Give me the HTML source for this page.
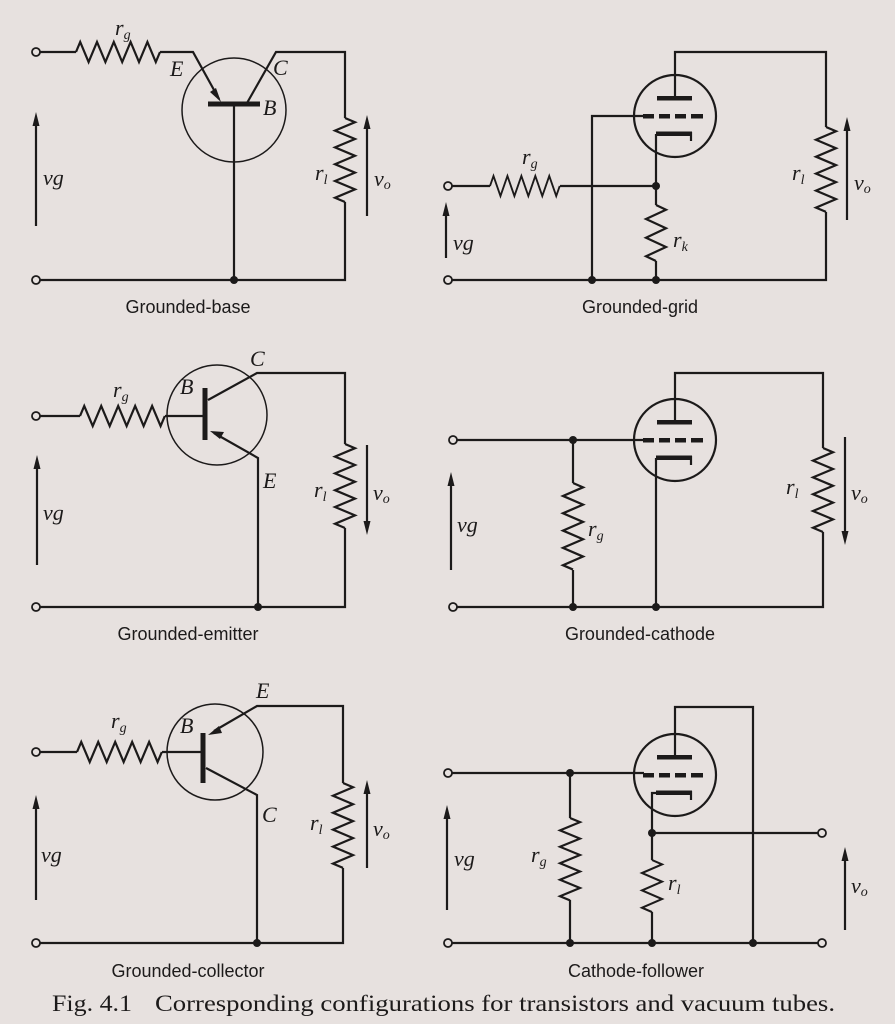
<!DOCTYPE html>
<html><head><meta charset="utf-8"><style>
html,body{margin:0;padding:0;background:#e7e1df;}
svg{display:block}
.w{fill:none;stroke:#1c1a1a;stroke-width:2.2;stroke-linejoin:miter}
.l{font-family:"Liberation Serif",serif;font-style:italic;font-size:22px;fill:#1c1a1a}
.s{font-family:"Liberation Serif",serif;font-style:italic;font-size:14px;fill:#1c1a1a}
.c{font-family:"Liberation Sans",sans-serif;font-size:18px;fill:#1c1a1a;text-anchor:middle}
.f{font-family:"Liberation Serif",serif;font-size:23px;fill:#1c1a1a}
</style></head><body>
<svg width="895" height="1024" viewBox="0 0 895 1024" xmlns="http://www.w3.org/2000/svg">
<defs>
<path id="R" class="w" d="M0,0 L4.2,-10 L12.6,10 L21,-10 L29.4,10 L37.8,-10 L46.2,10 L54.6,-10 L63,10 L71.4,-10 L79.8,10 L84,0"/>
<path id="R3" class="w" d="M0,0 L4.7,-10 L14,10 L23.3,-10 L32.7,10 L42,-10 L51.3,10 L56,0"/>
<g id="T">
<circle cx="0" cy="0" r="41" class="w"/>
<rect x="-18" y="-20" width="35" height="4.5" fill="#1c1a1a"/>
<rect x="-32" y="-2" width="11" height="4.5" fill="#1c1a1a"/>
<rect x="-16" y="-2" width="11" height="4.5" fill="#1c1a1a"/>
<rect x="0" y="-2" width="11" height="4.5" fill="#1c1a1a"/>
<rect x="16" y="-2" width="12" height="4.5" fill="#1c1a1a"/>
<rect x="-19" y="15.5" width="36" height="4.5" fill="#1c1a1a"/>
<line x1="16" y1="16" x2="16" y2="25" class="w"/>
<line x1="0" y1="-20" x2="0" y2="-41" class="w"/>
</g>
</defs>

<!-- Panel 1: Grounded-base -->
<circle cx="234" cy="110" r="52" fill="none" stroke="#1c1a1a" stroke-width="1.5"/>
<polyline class="w" points="40,52 76,52"/>
<use href="#R" transform="translate(76,52)"/>
<polyline class="w" points="160,52 193,52 219,99"/>
<polygon points="221,102 210,92 216,88" fill="#1c1a1a"/>
<rect x="208" y="101.5" width="52" height="5" fill="#1c1a1a"/>
<polyline class="w" points="247,103 276,52 345,52 345,118"/>
<use href="#R" transform="translate(345,118) rotate(90)"/>
<polyline class="w" points="345,202 345,280 40,280"/>
<line class="w" x1="234" y1="106" x2="234" y2="280"/>
<circle cx="234" cy="280" r="4" fill="#1c1a1a"/>
<circle cx="36" cy="52" r="4" fill="#e7e1df" stroke="#1c1a1a" stroke-width="1.8"/>
<circle cx="36" cy="280" r="4" fill="#e7e1df" stroke="#1c1a1a" stroke-width="1.8"/>
<line class="w" x1="36" y1="226" x2="36" y2="124"/><polygon points="36,112 32.5,126 39.5,126" fill="#1c1a1a"/>
<line class="w" x1="367" y1="216" x2="367" y2="127"/><polygon points="367,115 363.5,129 370.5,129" fill="#1c1a1a"/>
<text class="l" x="115" y="35">r<tspan class="s" dy="4">g</tspan></text>
<text class="l" x="170" y="76">E</text>
<text class="l" x="273" y="75">C</text>
<text class="l" x="263" y="115">B</text>
<text class="l" x="315" y="180">r<tspan class="s" dy="4">l</tspan></text>
<text class="l" x="374" y="186">v<tspan class="s" dy="3">o</tspan></text>
<text class="l" x="43" y="185">vg</text>
<text class="c" x="188" y="313">Grounded-base</text>

<!-- Panel 2: Grounded-grid -->
<use href="#T" transform="translate(675,116)"/>
<polyline class="w" points="675,75 675,52 826,52 826,127"/>
<use href="#R" transform="translate(826,127) rotate(90) scale(1.01,1)"/>
<polyline class="w" points="826,212 826,280 452,280"/>
<polyline class="w" points="644,116 592,116 592,280"/>
<polyline class="w" points="656,134 656,205"/>
<use href="#R3" transform="translate(656,205) rotate(90)"/>
<line class="w" x1="656" y1="261" x2="656" y2="280"/>
<polyline class="w" points="452,186 490,186"/>
<use href="#R" transform="translate(490,186) scale(0.83,1)"/>
<line class="w" x1="560" y1="186" x2="656" y2="186"/>
<circle cx="656" cy="186" r="4" fill="#1c1a1a"/>
<circle cx="592" cy="280" r="4" fill="#1c1a1a"/>
<circle cx="656" cy="280" r="4" fill="#1c1a1a"/>
<circle cx="448" cy="186" r="4" fill="#e7e1df" stroke="#1c1a1a" stroke-width="1.8"/>
<circle cx="448" cy="280" r="4" fill="#e7e1df" stroke="#1c1a1a" stroke-width="1.8"/>
<line class="w" x1="446" y1="258" x2="446" y2="214"/><polygon points="446,202 442.5,216 449.5,216" fill="#1c1a1a"/>
<line class="w" x1="847" y1="220" x2="847" y2="129"/><polygon points="847,117 843.5,131 850.5,131" fill="#1c1a1a"/>
<text class="l" x="522" y="164">r<tspan class="s" dy="4">g</tspan></text>
<text class="l" x="673" y="247">r<tspan class="s" dy="4">k</tspan></text>
<text class="l" x="792" y="180">r<tspan class="s" dy="4">l</tspan></text>
<text class="l" x="854" y="190">v<tspan class="s" dy="3">o</tspan></text>
<text class="l" x="453" y="250">vg</text>
<text class="c" x="640" y="313">Grounded-grid</text>

<!-- Panel 3: Grounded-emitter -->
<circle cx="217" cy="415" r="50" fill="none" stroke="#1c1a1a" stroke-width="1.5"/>
<line class="w" x1="40" y1="416" x2="80" y2="416"/>
<use href="#R" transform="translate(80,416) scale(1.01,1)"/>
<line class="w" x1="165" y1="416" x2="204" y2="416"/>
<rect x="202.5" y="388" width="5" height="52" fill="#1c1a1a"/>
<polyline class="w" points="208,400 257,373 345,373 345,444"/>
<use href="#R" transform="translate(345,444) rotate(90)"/>
<polyline class="w" points="345,528 345,607 40,607"/>
<polyline class="w" points="214,433 258,458 258,607"/>
<polygon points="210,431 224,432 220,439" fill="#1c1a1a"/>
<circle cx="258" cy="607" r="4" fill="#1c1a1a"/>
<circle cx="36" cy="416" r="4" fill="#e7e1df" stroke="#1c1a1a" stroke-width="1.8"/>
<circle cx="36" cy="607" r="4" fill="#e7e1df" stroke="#1c1a1a" stroke-width="1.8"/>
<line class="w" x1="37" y1="565" x2="37" y2="467"/><polygon points="37,455 33.5,469 40.5,469" fill="#1c1a1a"/>
<line class="w" x1="367" y1="445" x2="367" y2="523"/><polygon points="367,535 363.5,521 370.5,521" fill="#1c1a1a"/>
<text class="l" x="113" y="397">r<tspan class="s" dy="4">g</tspan></text>
<text class="l" x="250" y="366">C</text>
<text class="l" x="180" y="394">B</text>
<text class="l" x="263" y="488">E</text>
<text class="l" x="314" y="497">r<tspan class="s" dy="4">l</tspan></text>
<text class="l" x="373" y="500">v<tspan class="s" dy="3">o</tspan></text>
<text class="l" x="43" y="520">vg</text>
<text class="c" x="188" y="640">Grounded-emitter</text>

<!-- Panel 4: Grounded-cathode -->
<use href="#T" transform="translate(675,440)"/>
<polyline class="w" points="675,399 675,373 823,373 823,448"/>
<use href="#R" transform="translate(823,448) rotate(90)"/>
<polyline class="w" points="823,532 823,607 457,607"/>
<line class="w" x1="457" y1="440" x2="644" y2="440"/>
<line class="w" x1="573" y1="440" x2="573" y2="483"/>
<use href="#R" transform="translate(573,483) rotate(90) scale(1.03,1)"/>
<line class="w" x1="573" y1="570" x2="573" y2="607"/>
<line class="w" x1="656" y1="458" x2="656" y2="607"/>
<circle cx="573" cy="440" r="4" fill="#1c1a1a"/>
<circle cx="573" cy="607" r="4" fill="#1c1a1a"/>
<circle cx="656" cy="607" r="4" fill="#1c1a1a"/>
<circle cx="453" cy="440" r="4" fill="#e7e1df" stroke="#1c1a1a" stroke-width="1.8"/>
<circle cx="453" cy="607" r="4" fill="#e7e1df" stroke="#1c1a1a" stroke-width="1.8"/>
<line class="w" x1="451" y1="570" x2="451" y2="484"/><polygon points="451,472 447.5,486 454.5,486" fill="#1c1a1a"/>
<line class="w" x1="845" y1="437" x2="845" y2="533"/><polygon points="845,545 841.5,531 848.5,531" fill="#1c1a1a"/>
<text class="l" x="588" y="536">r<tspan class="s" dy="4">g</tspan></text>
<text class="l" x="786" y="494">r<tspan class="s" dy="4">l</tspan></text>
<text class="l" x="851" y="500">v<tspan class="s" dy="3">o</tspan></text>
<text class="l" x="457" y="532">vg</text>
<text class="c" x="640" y="640">Grounded-cathode</text>

<!-- Panel 5: Grounded-collector -->
<circle cx="215" cy="752" r="48" fill="none" stroke="#1c1a1a" stroke-width="1.5"/>
<line class="w" x1="40" y1="752" x2="77" y2="752"/>
<use href="#R" transform="translate(77,752) scale(1.01,1)"/>
<line class="w" x1="162" y1="752" x2="203" y2="752"/>
<rect x="200.5" y="733" width="5" height="50" fill="#1c1a1a"/>
<polyline class="w" points="214,731 257,706 343,706 343,783"/>
<polygon points="208,735 219,726 222,733" fill="#1c1a1a"/>
<use href="#R" transform="translate(343,783) rotate(90) scale(1.01,1)"/>
<polyline class="w" points="343,868 343,943 40,943"/>
<polyline class="w" points="206,768 257,795 257,943"/>
<circle cx="257" cy="943" r="4" fill="#1c1a1a"/>
<circle cx="36" cy="752" r="4" fill="#e7e1df" stroke="#1c1a1a" stroke-width="1.8"/>
<circle cx="36" cy="943" r="4" fill="#e7e1df" stroke="#1c1a1a" stroke-width="1.8"/>
<line class="w" x1="36" y1="900" x2="36" y2="807"/><polygon points="36,795 32.5,809 39.5,809" fill="#1c1a1a"/>
<line class="w" x1="367" y1="868" x2="367" y2="792"/><polygon points="367,780 363.5,794 370.5,794" fill="#1c1a1a"/>
<text class="l" x="111" y="728">r<tspan class="s" dy="4">g</tspan></text>
<text class="l" x="256" y="698">E</text>
<text class="l" x="180" y="733">B</text>
<text class="l" x="262" y="822">C</text>
<text class="l" x="310" y="830">r<tspan class="s" dy="4">l</tspan></text>
<text class="l" x="373" y="836">v<tspan class="s" dy="3">o</tspan></text>
<text class="l" x="41" y="862">vg</text>
<text class="c" x="188" y="977">Grounded-collector</text>

<!-- Panel 6: Cathode-follower -->
<use href="#T" transform="translate(675,775)"/>
<polyline class="w" points="675,734 675,707 753,707 753,943"/>
<line class="w" x1="452" y1="773" x2="644" y2="773"/>
<line class="w" x1="570" y1="773" x2="570" y2="818"/>
<use href="#R" transform="translate(570,818) rotate(90) scale(0.98,1)"/>
<line class="w" x1="570" y1="900" x2="570" y2="943"/>
<polyline class="w" points="656,793 652,793 652,860"/>
<line class="w" x1="652" y1="833" x2="818" y2="833"/>
<use href="#R3" transform="translate(652,860)  rotate(90) scale(0.93,1)"/>
<line class="w" x1="652" y1="912" x2="652" y2="943"/>
<line class="w" x1="452" y1="943" x2="818" y2="943"/>
<circle cx="570" cy="773" r="4" fill="#1c1a1a"/>
<circle cx="652" cy="833" r="4" fill="#1c1a1a"/>
<circle cx="570" cy="943" r="4" fill="#1c1a1a"/>
<circle cx="652" cy="943" r="4" fill="#1c1a1a"/>
<circle cx="753" cy="943" r="4" fill="#1c1a1a"/>
<circle cx="448" cy="773" r="4" fill="#e7e1df" stroke="#1c1a1a" stroke-width="1.8"/>
<circle cx="448" cy="943" r="4" fill="#e7e1df" stroke="#1c1a1a" stroke-width="1.8"/>
<circle cx="822" cy="833" r="4" fill="#e7e1df" stroke="#1c1a1a" stroke-width="1.8"/>
<circle cx="822" cy="943" r="4" fill="#e7e1df" stroke="#1c1a1a" stroke-width="1.8"/>
<line class="w" x1="447" y1="910" x2="447" y2="817"/><polygon points="447,805 443.5,819 450.5,819" fill="#1c1a1a"/>
<line class="w" x1="845" y1="930" x2="845" y2="859"/><polygon points="845,847 841.5,861 848.5,861" fill="#1c1a1a"/>
<text class="l" x="531" y="862">r<tspan class="s" dy="4">g</tspan></text>
<text class="l" x="668" y="890">r<tspan class="s" dy="4">l</tspan></text>
<text class="l" x="851" y="893">v<tspan class="s" dy="3">o</tspan></text>
<text class="l" x="454" y="866">vg</text>
<text class="c" x="636" y="977">Cathode-follower</text>

<text class="f" x="52" y="1011" textLength="80" lengthAdjust="spacingAndGlyphs">Fig. 4.1</text>
<text class="f" x="155" y="1011" textLength="680" lengthAdjust="spacingAndGlyphs">Corresponding configurations for transistors and vacuum tubes.</text>
</svg>
</body></html>
